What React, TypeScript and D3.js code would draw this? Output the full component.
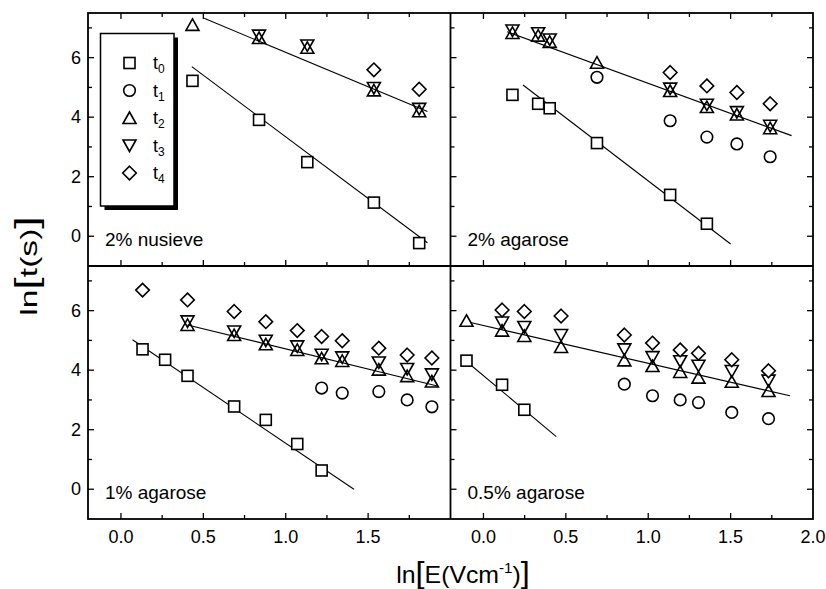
import React from "react";
import * as d3 from "d3";

// ln(E) columns and ln(t) values (null = no point)
const nusieveE = [0.434, 0.838, 1.131, 1.535, 1.81];
const nusieveT0 = [5.22, 3.91, 2.49, 1.13, -0.23];
const nusieveT1 = [null, null, null, null, null];
const nusieveT2 = [7.1, 6.66, 6.33, 4.9, 4.2];
const nusieveT3 = [null, 6.74, 6.41, 4.98, 4.28];
const nusieveT4 = [null, null, null, 5.59, 4.94];
const nusieveFits = [[[0.43, 5.7], [1.86, -0.22]], [[0.505, 7.32], [1.86, 4.19]]];

const agarose2E = [0.176, 0.332, 0.402, 0.689, 1.133, 1.356, 1.538, 1.74];
const agarose2T0 = [4.75, 4.45, 4.3, 3.13, 1.39, 0.42, null, null];
const agarose2T1 = [null, null, null, 5.34, 3.88, 3.33, 3.1, 2.67];
const agarose2T2 = [6.83, 6.74, 6.53, 5.83, 4.88, 4.34, 4.09, 3.63];
const agarose2T3 = [6.91, 6.82, 6.61, null, 4.96, 4.42, 4.17, 3.71];
const agarose2T4 = [null, null, null, null, 5.5, 5.05, 4.83, 4.45];
const agarose2Fits = [[[0.24, 5.08], [1.5, -0.26]], [[0.144, 6.87], [1.87, 3.38]]];

const agarose1E = [0.131, 0.268, 0.404, 0.687, 0.879, 1.07, 1.218, 1.343, 1.565, 1.737, 1.887];
const agarose1T0 = [4.7, 4.35, 3.81, 2.78, 2.33, 1.52, 0.63, null, null, null, null];
const agarose1T1 = [null, null, null, null, null, null, 3.4, 3.23, 3.28, 3.0, 2.77];
const agarose1T2 = [null, null, 5.52, 5.18, 4.87, 4.68, 4.4, 4.31, 4.02, 3.8, 3.62];
const agarose1T3 = [null, null, 5.64, 5.3, 4.99, 4.8, 4.52, 4.43, 4.26, 4.04, 3.86];
const agarose1T4 = [6.69, null, 6.36, 5.97, 5.63, 5.33, 5.13, 4.99, 4.74, 4.51, 4.41];
const agarose1Fits = [[[0.07, 5.02], [1.414, 0.0]], [[0.404, 5.52], [1.92, 3.47]]];

const agarose05E = [-0.103, 0.113, 0.248, 0.471, 0.855, 1.026, 1.194, 1.305, 1.507, 1.73];
const agarose05T0 = [4.32, 3.51, 2.67, null, null, null, null, null, null, null];
const agarose05T1 = [null, null, null, null, 3.53, 3.14, 3.0, 2.91, 2.58, 2.37];
const agarose05T2 = [5.66, 5.33, 5.15, 4.78, 4.33, 4.14, 3.94, 3.75, 3.61, 3.3];
const agarose05T3 = [null, 5.6, 5.45, 5.18, 4.7, 4.44, 4.3, 4.15, 3.97, 3.65];
const agarose05T4 = [null, 6.02, 5.97, 5.82, 5.18, 4.91, 4.68, 4.57, 4.35, 3.98];
const agarose05Fits = [[[-0.139, 4.46], [0.442, 1.77]], [[-0.079, 5.6], [1.86, 3.14]]];

const seriesNames = ["t0", "t1", "t2", "t3", "t4"];
const xTicks = [0, 0.5, 1.0, 1.5, 2.0];
const yTicks = [0, 2, 4, 6];

const panels = [
  { label: "2% nusieve", col: 0, row: 0, E: nusieveE, t: [nusieveT0, nusieveT1, nusieveT2, nusieveT3, nusieveT4], fits: nusieveFits },
  { label: "2% agarose", col: 1, row: 0, E: agarose2E, t: [agarose2T0, agarose2T1, agarose2T2, agarose2T3, agarose2T4], fits: agarose2Fits },
  { label: "1% agarose", col: 0, row: 1, E: agarose1E, t: [agarose1T0, agarose1T1, agarose1T2, agarose1T3, agarose1T4], fits: agarose1Fits },
  { label: "0.5% agarose", col: 1, row: 1, E: agarose05E, t: [agarose05T0, agarose05T1, agarose05T2, agarose05T3, agarose05T4], fits: agarose05Fits },
];

const W = 826, H = 589;
const left = 88, right = 813, top = 13, bottom = 519;
const midX = 450.5, midY = 266;
const font = "'Liberation Sans', Arial, Helvetica, sans-serif";

const Marker = ({ k, x, y }) => {
  const p = { fill: "white", stroke: "black", strokeWidth: 1.6 };
  if (k === 0) return <rect x={x - 5.5} y={y - 5.5} width={11} height={11} {...p} />;
  if (k === 1) return <circle cx={x} cy={y} r={5.8} {...p} />;
  if (k === 2) return <path d={`M${x},${y - 6}L${x + 6.5},${y + 5.5}L${x - 6.5},${y + 5.5}Z`} {...p} fill="none" />;
  if (k === 3) return <path d={`M${x},${y + 6}L${x + 6.5},${y - 5.5}L${x - 6.5},${y - 5.5}Z`} {...p} fill="none" />;
  return <path d={`M${x},${y - 6.8}L${x + 6.8},${y}L${x},${y + 6.8}L${x - 6.8},${y}Z`} {...p} />;
};

const Panel = ({ p }) => {
  const x0 = p.col === 0 ? left : midX, x1 = p.col === 0 ? midX : right;
  const y0 = p.row === 0 ? top : midY, y1 = p.row === 0 ? midY : bottom;
  const x = d3.scaleLinear().domain([-0.2, 2.0]).range([x0, x1]);
  const y = d3.scaleLinear().domain([-1, 7.5]).range([y1, y0]);
  const minorX = d3.range(0, 8).map(i => i * 0.25).filter(v => v < 2);
  const minorY = d3.range(0, 8);
  const line = d3.line().x(d => x(d[0])).y(d => y(d[1]));
  const tk = { stroke: "black", strokeWidth: 1.3 };
  return (
    <g>
      {/* left-axis ticks, inward */}
      {minorY.map(v => (
        <line key={"l" + v} x1={x0} x2={x0 + (v % 2 === 0 ? 6 : 4)} y1={y(v)} y2={y(v)} {...tk} />
      ))}
      {p.col === 1 && minorY.map(v => (
        <line key={"r" + v} x1={x1} x2={x1 - (v % 2 === 0 ? 6 : 4)} y1={y(v)} y2={y(v)} {...tk} />
      ))}
      {minorX.map(v => (
        <line key={"b" + v} x1={x(v)} x2={x(v)} y1={y1} y2={y1 - (v % 0.5 === 0 ? 6 : 4)} {...tk} />
      ))}
      {p.row === 0 && minorX.map(v => (
        <line key={"t" + v} x1={x(v)} x2={x(v)} y1={y0} y2={y0 + (v % 0.5 === 0 ? 6 : 4)} {...tk} />
      ))}
      {p.fits.map((f, i) => (
        <path key={"f" + i} d={line(f)} stroke="black" strokeWidth={1.1} fill="none" />
      ))}
      {p.t.map((vals, k) =>
        vals.map((v, i) => (v == null ? null : <Marker key={k + "-" + i} k={k} x={x(p.E[i])} y={y(v)} />))
      )}
      <text x={x0 + 17} y={y1 - 20} fontSize={19} fontFamily={font}>{p.label}</text>
      {p.col === 0 && yTicks.map(v => (
        <text key={"yl" + v} x={x0 - 7} y={y(v) + 6} textAnchor="end" fontSize={18} fontFamily={font}>{v}</text>
      ))}
      {p.row === 1 && xTicks.filter(v => p.col === 1 || v < 2).map(v => (
        <text key={"xl" + v} x={x(v)} y={y1 + 24} textAnchor="middle" fontSize={18} fontFamily={font}>{v.toFixed(1)}</text>
      ))}
    </g>
  );
};

const Legend = () => {
  const bx = 100.5, by = 33.5, bw = 73.5, bh = 172.5;
  const rowY = d3.scaleLinear().domain([0, 4]).range([63, 173]);
  return (
    <g>
      <rect x={bx + 4} y={by + 4} width={bw} height={bh} fill="black" />
      <rect x={bx} y={by} width={bw} height={bh} fill="white" stroke="black" strokeWidth={1.5} />
      {seriesNames.map((s, k) => (
        <g key={s}>
          <Marker k={k} x={129.5} y={rowY(k)} />
          <text x={153} y={rowY(k) + 6} fontSize={18} fontFamily={font}>
            t<tspan fontSize={12} dy={4}>{k}</tspan>
          </text>
        </g>
      ))}
    </g>
  );
};

export default function App() {
  return (
    <svg width={W} height={H} style={{ position: "absolute", left: 0, top: 0, background: "white" }}>
      <rect x={0} y={0} width={W} height={H} fill="white" />
      {panels.map(p => <Panel key={p.label} p={p} />)}
      <rect x={left} y={top} width={right - left} height={bottom - top} fill="none" stroke="black" strokeWidth={1.8} />
      <line x1={midX} x2={midX} y1={top} y2={bottom} stroke="black" strokeWidth={1.8} />
      <line x1={left} x2={right} y1={midY} y2={midY} stroke="black" strokeWidth={1.8} />
      <Legend />
      <text transform="translate(37,266) rotate(-90) scale(1.4,1)" textAnchor="middle" fontSize={24} fontFamily={font}>
        ln<tspan fontSize={32}>[</tspan>t(s)<tspan fontSize={32}>]</tspan>
      </text>
      <text transform="translate(463,583) scale(1.08,1)" textAnchor="middle" fontSize={23} fontFamily={font}>
        ln<tspan fontSize={30}>[</tspan>E(Vcm<tspan fontSize={14} dy={-10}>-1</tspan><tspan dy={10}>)</tspan><tspan fontSize={30}>]</tspan>
      </text>
    </svg>
  );
}
